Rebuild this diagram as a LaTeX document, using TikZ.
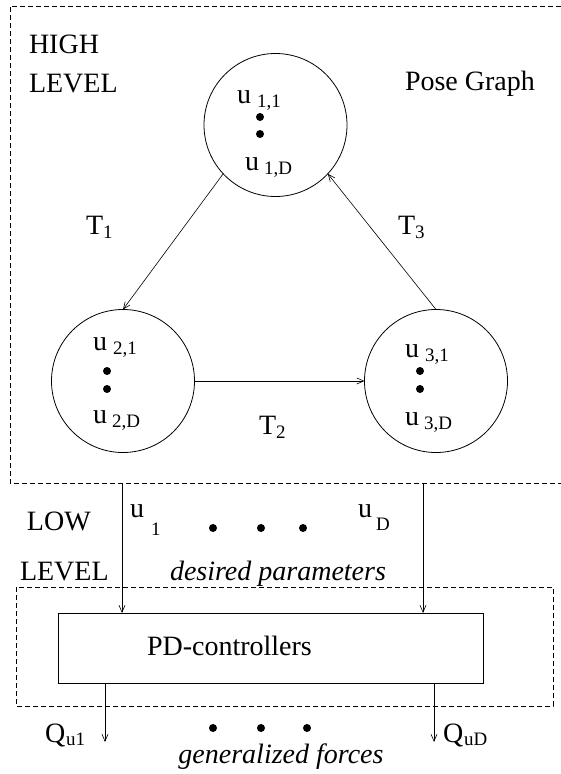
\documentclass[tikz,border=0pt]{standalone}
\usepackage{fontspec}
\setmainfont{LiberationSerif}[Extension=.ttf, UprightFont=*-Regular, ItalicFont=*-Italic, BoldFont=*-Bold, BoldItalicFont=*-BoldItalic]
\usetikzlibrary{arrows.meta}
\newcommand\mysub[2]{\raisebox{-#1pt}{\fontsize{19}{19}\selectfont #2}}
\begin{document}
\begin{tikzpicture}[x=1pt,y=-1pt,
  every node/.style={inner sep=0pt, outer sep=0pt, font=\fontsize{28}{30}\selectfont},
  state/.style={draw, circle, minimum size=143pt, line width=0.8pt},
  arr/.style={-{Straight Barb[length=7pt,width=6pt]}, line width=0.6pt},
  grp/.style={dash pattern=on 5pt off 3pt, line width=0.6pt},
  lbl/.style={anchor=base west},
  dot/.style={fill=black}]
\useasboundingbox (0,0) rectangle (561,774);
% high level group
\draw[grp] (561,6) -- (10,6) -- (10,483) -- (561,483);
\node[lbl] (high) at (29,53) {HIGH};
\node[lbl] (hlevel) at (29,92) {LEVEL};
\node[lbl] (pose) at (405,90) {Pose Graph};
% pose graph
\node[state] (c1) at (275.5,125) {};
\node[state] (c2) at (123,381) {};
\node[state] (c3) at (436,381) {};
\draw[arr] (c1.223) -- (c2.north);
\draw[arr] (c2.east) -- (c3.west);
\draw[arr] (c3.north) -- (c1.317);
\node[lbl] (t1) at (86,234) {T\mysub{4}{1}};
\node[lbl] (t3) at (398,234) {T\mysub{4}{3}};
\node[lbl] (t2) at (259,434) {T\mysub{4}{2}};
\node[lbl] (u11) at (237,103) {u\hspace{6pt}\mysub{4}{1,1}};
\node[lbl] (u1D) at (245,170) {u\hspace{5pt}\mysub{4}{1,D}};
\node[lbl] (u21) at (93,350) {u\hspace{6pt}\mysub{4}{2,1}};
\node[lbl] (u2D) at (93,423) {u\hspace{5pt}\mysub{4}{2,D}};
\node[lbl] (u31) at (405,357) {u\hspace{6pt}\mysub{4}{3,1}};
\node[lbl] (u3D) at (405,425) {u\hspace{5pt}\mysub{4}{3,D}};
\fill[dot] (260,117) circle (4pt) (260,134) circle (4pt);
\fill[dot] (107,371) circle (4pt) (107,389) circle (4pt);
\fill[dot] (420,371) circle (4pt) (420,389) circle (4pt);
% low level
\node[lbl] (low) at (27,530) {LOW};
\node[lbl] (llevel) at (20,580) {LEVEL};
\node[lbl] (ua) at (130,517) {u\hspace{7pt}\mysub{18}{1}};
\node[lbl] (ub) at (358,517) {u\hspace{4pt}\mysub{13}{D}};
\fill[dot] (213,528) circle (4pt) (261,528) circle (4pt) (303,528) circle (4pt);
\node[anchor=base] (dp) at (278,580) {\itshape desired parameters};
\draw[grp] (16,587) rectangle (553,706);
\node[draw, line width=0.8pt, minimum width=425pt, minimum height=70pt] (pd) at (270.5,648) {};
\node[lbl] (pdt) at (147,655) {PD-controllers};
\coordinate (in1) at (122,483);
\coordinate (inD) at (423,483);
\draw[arr] (in1) -- (in1 |- pd.north);
\draw[arr] (inD) -- (inD |- pd.north);
\coordinate (o1) at (105,742);
\coordinate (oD) at (434,742);
\draw[arr] (pd.south -| o1) -- (o1);
\draw[arr] (pd.south -| oD) -- (oD);
\node[lbl] (q1) at (45,742) {Q\hspace{1pt}\mysub{3}{u1}};
\node[lbl] (qD) at (443,742) {Q\hspace{1pt}\mysub{3}{uD}};
\fill[dot] (213,728) circle (4pt) (261,728) circle (4pt) (307,728) circle (4pt);
\node[anchor=base] (gf) at (281,763) {\itshape generalized forces};
\end{tikzpicture}
\end{document}
